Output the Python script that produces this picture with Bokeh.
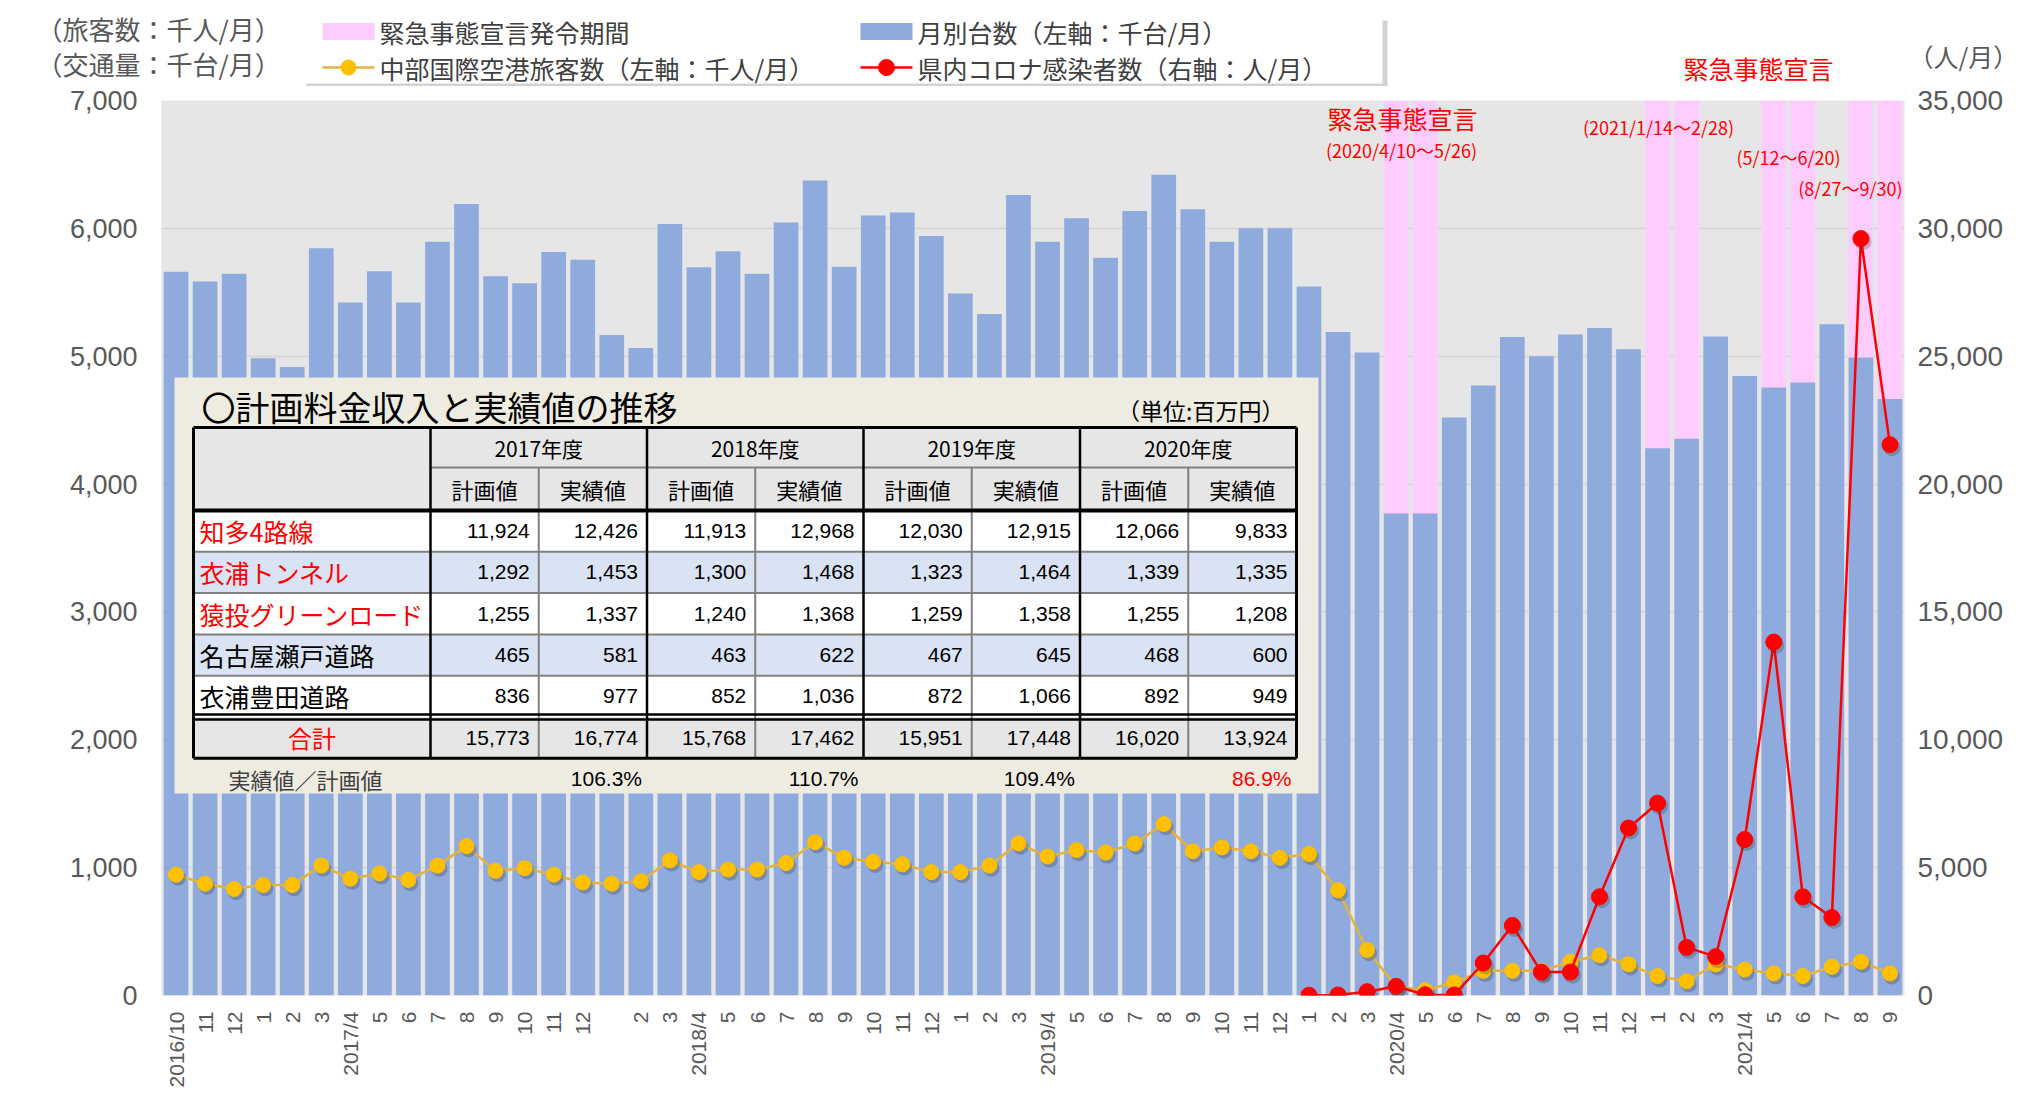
import math
from bokeh.plotting import figure
from bokeh.layouts import column
from bokeh.models import (Range1d, LinearAxis, FixedTicker, NumeralTickFormatter,
                          Label, ColumnDataSource)
from bokeh.transform import dodge
from bokeh.core.properties import value
from bokeh.embed import file_html
from bokeh.resources import INLINE

# ---------------- data ----------------
month_keys = (["2016/%d" % m for m in range(10, 13)]
              + ["%d/%d" % (y, m) for y in range(2017, 2021) for m in range(1, 13)]
              + ["2021/%d" % m for m in range(1, 10)])

tick_labels = ["2016/10", "11", "12", "1", "2", "3",
               "2017/4", "5", "6", "7", "8", "9", "10", "11", "12", "", "2", "3",
               "2018/4", "5", "6", "7", "8", "9", "10", "11", "12", "1", "2", "3",
               "2019/4", "5", "6", "7", "8", "9", "10", "11", "12", "1", "2", "3",
               "2020/4", "5", "6", "7", "8", "9", "10", "11", "12", "1", "2", "3",
               "2021/4", "5", "6", "7", "8", "9"]

# 月別台数（千台/月）
traffic = [5660, 5585, 5645, 4985, 4915, 5845, 5420, 5665, 5420, 5895,
           6190, 5625, 5570, 5815, 5755, 5165, 5065, 6035, 5695, 5820,
           5645, 6045, 6375, 5700, 6100, 6125, 5940, 5490, 5330, 6260,
           5895, 6080, 5770, 6135, 6420, 6150, 5895, 6000, 6000, 5545,
           5190, 5030, 3770, 3770, 4520, 4770, 5150, 5000, 5170, 5220,
           5055, 4280, 4355, 5155, 4845, 4755, 4795, 5250, 4990, 4665]

# 中部国際空港旅客数（千人/月）
passengers = [945, 874, 833, 864, 864, 1016, 914, 955, 904, 1016,
              1168, 975, 996, 945, 884, 874, 894, 1057, 965, 985,
              985, 1036, 1199, 1077, 1046, 1026, 965, 965, 1016, 1189,
              1087, 1138, 1118, 1189, 1341, 1128, 1158, 1128, 1077, 1107,
              823, 356, 71, 41, 102, 193, 193, 193, 264, 315,
              244, 152, 112, 244, 203, 173, 152, 224, 264, 173]

# 県内コロナ感染者数（人/月） 2020/1 -
covid_first_month = "2020/1"
covid_cases = [10, 20, 150, 360, 30, 20, 1270, 2740, 915, 915,
               3860, 6550, 7520, 1880, 1520, 6100, 13820, 3860, 3050, 29600, 21540]

emergency_months = ["2020/4", "2020/5", "2021/1", "2021/2", "2021/5", "2021/6", "2021/8", "2021/9"]

legend_labels = ["緊急事態宣言発令期間", "月別台数（左軸：千台/月）",
                 "中部国際空港旅客数（左軸：千人/月）", "県内コロナ感染者数（右軸：人/月）"]

# 計画料金収入と実績値（百万円）
years = ["2017年度", "2018年度", "2019年度", "2020年度"]
routes = ["知多4路線", "衣浦トンネル", "猿投グリーンロード", "名古屋瀬戸道路", "衣浦豊田道路"]
chita_plan = [11924, 11913, 12030, 12066]
chita_actual = [12426, 12968, 12915, 9833]
kinuura_tunnel_plan = [1292, 1300, 1323, 1339]
kinuura_tunnel_actual = [1453, 1468, 1464, 1335]
sanage_plan = [1255, 1240, 1259, 1255]
sanage_actual = [1337, 1368, 1358, 1208]
nagoya_seto_plan = [465, 463, 467, 468]
nagoya_seto_actual = [581, 622, 645, 600]
kinuura_toyota_plan = [836, 852, 872, 892]
kinuura_toyota_actual = [977, 1036, 1066, 949]
total_plan = [15773, 15768, 15951, 16020]
total_actual = [16774, 17462, 17448, 13924]
ratio_text = ["106.3%", "110.7%", "109.4%", "86.9%"]

# ---------------- layout ----------------
W = 2030
TOP_H = 86                      # header strip (legend, unit labels)
ML, MR, MT, MB = 161, 126, 14, 99
FW, FH = W - ML - MR, 895
H_MAIN = MT + FH + MB
OX, OY = ML, TOP_H + MT + FH    # page coords of main frame bottom-left
Y_MAX, Y2_MAX = 7000, 35000

def px(X):
    return X - OX

def py(Y):
    return OY - Y

JP = "Noto Sans CJK JP"
NUM = "Liberation Sans"
RED = "#FF0000"
PINK, BLUE_BAR, YEL, YEL_LINE = "#FFCCFF", "#8FAADC", "#FFC000", "#E2B33F"

# ---------------- header strip ----------------
top = figure(width=W, height=TOP_H, output_backend="svg", toolbar_location=None,
             x_range=Range1d(0, W), y_range=Range1d(0, TOP_H), min_border=0,
             x_axis_type=None, y_axis_type=None, outline_line_color=None,
             background_fill_color="white", border_fill_color="white")
top.frame_align = False
top.grid.visible = False

def sy(Y):
    return TOP_H - Y

# legend box with shadow
top.quad(left=306, right=1387, top=sy(20), bottom=sy(87), fill_color="#BFBFBF", fill_alpha=0.7, line_color=None)
top.quad(left=302, right=1382, top=sy(16), bottom=sy(83), fill_color="white", line_color=None)

# legend keys
ROW1, ROW2 = 31, 67
C1, C2 = 322, 860
KW = 52
top.quad(left=[C1, C2], right=[C1 + KW, C2 + KW], top=[sy(ROW1 - 8.5)] * 2,
         bottom=[sy(ROW1 + 8.5)] * 2, fill_color=[PINK, BLUE_BAR], line_color=None)
top.segment(x0=[C1, C2], y0=[sy(ROW2)] * 2, x1=[C1 + KW, C2 + KW], y1=[sy(ROW2)] * 2,
            line_color=[YEL_LINE, RED], line_width=2.5)
top.scatter(x=[C1 + KW / 2, C2 + KW / 2], y=[sy(ROW2)] * 2, size=[15, 16],
            fill_color=[YEL, RED], line_color=[YEL, RED])

def tlab(text, X, Y, size, color, align="left"):
    top.add_layout(Label(x=X, y=sy(Y), text=text, text_font=JP, text_font_size="%dpx" % size,
                         text_color=color, text_align=align, text_baseline="middle"))

for t, X, Y in zip(legend_labels, [C1, C2, C1, C2], [ROW1, ROW1, ROW2, ROW2]):
    tlab(t, X + KW + 5, Y, 25, "#404040")

tlab("（旅客数：千人/月）", 36, 28, 26, "#595959")
tlab("（交通量：千台/月）", 36, 63, 26, "#595959")
tlab("（人/月）", 1908, 55, 25, "#595959")
tlab("緊急事態宣言", 1758, 67, 25, RED, "center")

# ---------------- main figure ----------------
p = figure(width=W, height=H_MAIN, output_backend="svg", toolbar_location=None,
           x_range=Range1d(-0.5, len(month_keys) - 0.5), y_range=Range1d(0, Y_MAX),
           min_border_left=ML, min_border_right=MR, min_border_top=MT, min_border_bottom=MB,
           background_fill_color="#E7E6E6", border_fill_color="white", outline_line_color=None)
p.frame_align = False
p.extra_x_ranges = {"px": Range1d(0, FW)}
p.extra_y_ranges = {"right": Range1d(0, Y2_MAX), "py": Range1d(0, FH)}

x_idx = list(range(len(month_keys)))
src = ColumnDataSource(dict(x=x_idx, traffic=traffic, pax=passengers))
em_x = [month_keys.index(m) for m in emergency_months]
c0 = month_keys.index(covid_first_month)
csrc = ColumnDataSource(dict(x=[c0 + i for i in range(len(covid_cases))], cases=covid_cases))

BAR_W = 0.85
p.vbar(x=em_x, top=Y_MAX, bottom=0, width=BAR_W, fill_color=PINK, line_color=None)
p.vbar(x="x", top="traffic", width=BAR_W, source=src, fill_color=BLUE_BAR, line_color=None)

p.line("x", "pax", source=src, line_color=YEL_LINE, line_width=2.5)
p.scatter(x=dodge("x", 0.07), y=dodge("pax", -25), source=src, size=16,
          fill_color="#404040", fill_alpha=0.3, line_color=None)
p.scatter("x", "pax", source=src, size=15, fill_color=YEL, line_color=YEL)

p.line("x", "cases", source=csrc, y_range_name="right", line_color=RED, line_width=2.5)
p.scatter(x=dodge("x", 0.07), y=dodge("cases", -120), source=csrc, y_range_name="right",
          size=17, fill_color="#404040", fill_alpha=0.3, line_color=None)
p.scatter("x", "cases", source=csrc, y_range_name="right", size=16, fill_color=RED, line_color=RED)

# ---------------- axes ----------------
def style_axis(ax, size, standoff):
    ax.axis_line_color = None
    ax.major_tick_line_color = None
    ax.minor_tick_line_color = None
    ax.major_tick_out = 0
    ax.major_tick_in = 0
    ax.major_label_text_font = NUM
    ax.major_label_text_font_size = size
    ax.major_label_text_color = "#595959"
    ax.major_label_standoff = standoff

ay = p.yaxis[0]
ay.ticker = FixedTicker(ticks=list(range(0, Y_MAX + 1, 1000)))
ay.formatter = NumeralTickFormatter(format="0,0")
style_axis(ay, "27px", 24)

ar = LinearAxis(y_range_name="right", ticker=FixedTicker(ticks=list(range(0, Y2_MAX + 1, 5000))),
                formatter=NumeralTickFormatter(format="0,0"))
style_axis(ar, "28px", 13)
p.add_layout(ar, "right")

axx = p.xaxis[0]
axx.ticker = FixedTicker(ticks=x_idx)
axx.major_label_overrides = {i: lab for i, lab in enumerate(tick_labels)}
axx.major_label_orientation = math.pi / 2
style_axis(axx, "21px", 16)

p.xgrid.visible = False
p.ygrid.ticker = FixedTicker(ticks=list(range(0, Y_MAX + 1, 1000)))
p.ygrid.grid_line_color = "#D4D4D4"
p.ygrid.grid_line_width = 1.5

# ---------------- labels in plot ----------------
def lab(text, X, Y, size, color, align="left", font=JP):
    p.add_layout(Label(x=px(X), y=py(Y), x_range_name="px", y_range_name="py", text=text,
                       text_font=font, text_font_size="%dpx" % size, text_color=color,
                       text_align=align, text_baseline="middle"))

lab("緊急事態宣言", 1402, 117, 25, RED, "center")
lab("(2020/4/10～5/26)", 1401, 149, 18, RED, "center")
lab("(2021/1/14～2/28)", 1658, 126, 18, RED, "center")
lab("(5/12～6/20)", 1788, 156, 18, RED, "center")
lab("(8/27～9/30)", 1902, 187, 18, RED, "right")

# ---------------- table ----------------
R = dict(x_range_name="px", y_range_name="py")
p.quad(left=px(174), right=px(1318), top=py(377), bottom=py(793),
       fill_color="#EEECE1", line_color=None, **R)

TL, LW, CW = 193, 237, 108.25
TT, HR1, HR2, RH = 427, 40, 43, 41.3
col_x = [TL + LW + i * CW for i in range(9)]
TR = col_x[-1]
hdr_bot = TT + HR1 + HR2
row_y = [hdr_bot + k * RH for k in range(7)]
TB = row_y[6]

GRAY, BLUE = "#E6E6E6", "#DAE3F3"
fills = [(TL, TR, TT, hdr_bot, GRAY)]
for k in range(6):
    c = BLUE if k in (1, 3) else (GRAY if k == 5 else "white")
    fills.append((TL, TR, row_y[k], row_y[k + 1], c))
p.quad(left=[px(f[0]) for f in fills], right=[px(f[1]) for f in fills],
       top=[py(f[2]) for f in fills], bottom=[py(f[3]) for f in fills],
       fill_color=[f[4] for f in fills], line_color=None, **R)

def segs(lines, color, width):
    p.segment(x0=[px(l[0]) for l in lines], y0=[py(l[1]) for l in lines],
              x1=[px(l[2]) for l in lines], y1=[py(l[3]) for l in lines],
              line_color=color, line_width=width, **R)

gl = [(col_x[0], TT + HR1, TR, TT + HR1)]
gl += [(TL, row_y[k], TR, row_y[k]) for k in range(1, 5)]
gl += [(col_x[i], TT + HR1, col_x[i], TB) for i in (1, 3, 5, 7)]
segs(gl, "#808080", 2)
bl = [(col_x[i], TT, col_x[i], TB) for i in (0, 2, 4, 6)]
bl += [(TL, row_y[5] - 2.5, TR, row_y[5] - 2.5), (TL, row_y[5] + 2.5, TR, row_y[5] + 2.5)]
segs(bl, "black", 2.5)
segs([(TL, hdr_bot, TR, hdr_bot)], "black", 4)
segs([(TL, TT, TR, TT), (TL, TB, TR, TB), (TL, TT, TL, TB), (TR, TT, TR, TB)], "black", 3)

def texts(xs, ys_, tx, size, color, align, font):
    p.text(x=[px(v) for v in xs], y=[py(v) for v in ys_], text=tx,
           text_font=value(font), text_font_size=value("%dpx" % size), text_color=color,
           text_align=align, text_baseline="middle", **R)

texts([201], [406], ["〇計画料金収入と実績値の推移"], 34, "black", "left", JP)
texts([1284], [409], ["（単位:百万円）"], 23, "black", "right", JP)

texts([(col_x[2 * i] + col_x[2 * i + 2]) / 2 for i in range(4)], [TT + HR1 / 2] * 4, years,
      21, "black", "center", JP)
texts([(col_x[i] + col_x[i + 1]) / 2 for i in range(8)], [TT + HR1 + HR2 / 2] * 8,
      ["計画値", "実績値"] * 4, 22, "black", "center", JP)

row_c = [(row_y[k] + row_y[k + 1]) / 2 for k in range(6)]
texts([TL + 6] * 3, row_c[:3], routes[:3], 25, RED, "left", JP)
texts([TL + 6] * 2, row_c[3:5], routes[3:], 25, "black", "left", JP)
texts([TL + LW / 2], [row_c[5]], ["合計"], 24, RED, "center", JP)

rows_vals = [(chita_plan, chita_actual), (kinuura_tunnel_plan, kinuura_tunnel_actual),
             (sanage_plan, sanage_actual), (nagoya_seto_plan, nagoya_seto_actual),
             (kinuura_toyota_plan, kinuura_toyota_actual), (total_plan, total_actual)]
vx, vy, vt = [], [], []
for k, (pl, ac) in enumerate(rows_vals):
    for i in range(4):
        for j, arr in enumerate((pl, ac)):
            vx.append(col_x[2 * i + j + 1] - 9)
            vy.append(row_c[k])
            vt.append("{:,}".format(arr[i]))
texts(vx, vy, vt, 21, "black", "right", NUM)

texts([228], [778], ["実績値／計画値"], 22, "#404040", "left", JP)
texts([col_x[2 * i + 2] - 5 for i in range(3)], [778] * 3, ratio_text[:3], 21, "black", "right", NUM)
texts([col_x[8] - 5], [778], ratio_text[3:], 21, RED, "right", NUM)

layout = column(top, p, spacing=0)
open("out.html", "w").write(file_html(layout, INLINE))
